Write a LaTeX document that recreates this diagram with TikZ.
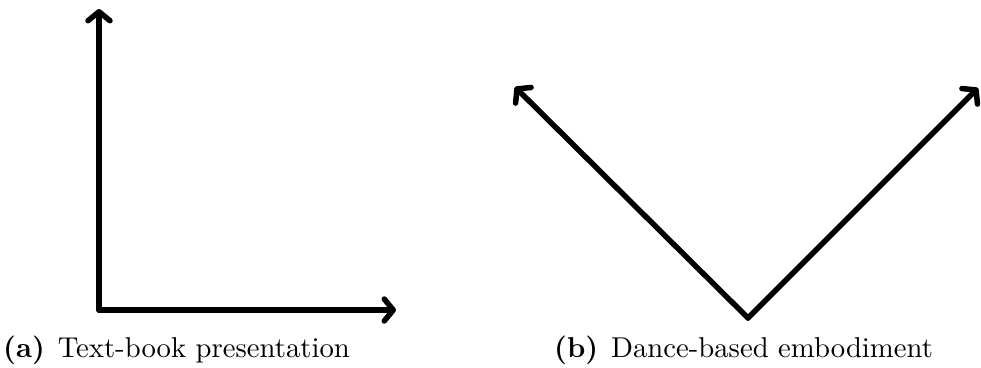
\documentclass[tikz,border=0pt]{standalone}
\usepackage{graphicx}
\usetikzlibrary{arrows.meta}
\newcommand{\subcaptiontext}[2]{\scalebox{2.87}{\fontsize{10}{12}\selectfont\textbf{(#1)}\hspace{0.45em}#2}}
\begin{document}
\begin{tikzpicture}[x=1pt,y=-1pt,
  axis/.style={line width=5.5pt,line cap=round,line join=round,
    -{Straight Barb[length=9pt,width=22pt,line width=5.5pt,round]}},
  captext/.style={anchor=base west,inner sep=0pt}]
\useasboundingbox (0,0) rectangle (981,367);
\coordinate (o) at (99,310);
\coordinate (ytop) at (99,9);
\coordinate (xend) at (396,310);
\draw[axis] (o) -- (ytop);
\draw[axis] (o) -- (xend);
\coordinate (v) at (748,318);
\coordinate (l) at (515,87);
\coordinate (r) at (978,88);
\draw[axis] (v) -- (l);
\draw[axis] (v) -- (r);
\node[captext] (ca) at (3,357) {\subcaptiontext{a}{Text-book presentation}};
\node[captext] (cb) at (554,357) {\subcaptiontext{b}{Dance-based embodiment}};
\end{tikzpicture}
\end{document}
